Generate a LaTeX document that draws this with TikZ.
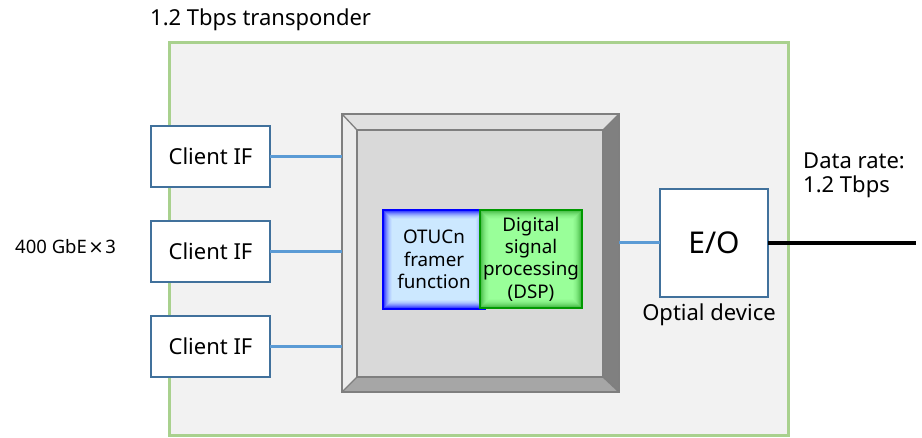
\documentclass[tikz,border=0pt]{standalone}
\usepackage{fontspec}
\setmainfont{Noto Sans}
\newfontfamily\dvfont{DejaVu Sans}
\usetikzlibrary{calc}
\definecolor{outerg}{HTML}{A9D18E}
\definecolor{bgg}{HTML}{F2F2F2}
\definecolor{boxb}{HTML}{41719C}
\definecolor{linkb}{HTML}{5B9BD5}
\definecolor{bevtop}{HTML}{E0E0E0}
\definecolor{bevleft}{HTML}{ECECEC}
\definecolor{bevright}{HTML}{808080}
\definecolor{bevbot}{HTML}{A6A6A6}
\definecolor{face}{HTML}{D9D9D9}
\definecolor{edgegray}{HTML}{7F7F7F}
\definecolor{otufill}{HTML}{CCE8FF}
\definecolor{otuedge}{HTML}{0000FF}
\definecolor{dspfill}{HTML}{99FF99}
\definecolor{dspedge}{HTML}{009900}
\definecolor{dspglow}{HTML}{33AA33}
\begin{document}
\begin{tikzpicture}[x=1pt,y=-1pt,
  f20/.style={font=\fontsize{22}{24.7}\selectfont},
  f17/.style={font=\fontsize{18.8}{22.3}\selectfont},
  cif/.style={draw=boxb, line width=2.2pt, fill=white, minimum width=119pt, minimum height=61pt, inner sep=0pt, outer sep=0pt, f20},
  link/.style={draw=linkb, line width=3pt},
  glowbox/.style 2 args={draw=#1, line width=2pt, fill=#2, inner sep=0pt, outer sep=0pt, align=center, f17},
  glow/.style={path picture={
    \foreach \i/\o in {1/0.5,2/0.38,3/0.28,4/0.2,5/0.14,6/0.09,7/0.05,8/0.03}
      \draw[#1, opacity=\o, line width=1.1pt]
        ([shift={(\i,\i)}]path picture bounding box.north west) rectangle
        ([shift={(-\i,-\i)}]path picture bounding box.south east);}}
]
\useasboundingbox (0,0) rectangle (922,438);
\fill[white] (0,0) rectangle (922,438);

% transponder frame
\node[draw=outerg, line width=3pt, fill=bgg, minimum width=619pt, minimum height=393pt,
      inner sep=0pt, outer sep=0pt, anchor=north west] (tp) at (169,43) {};
\node[f20, anchor=base west, inner sep=0pt] (title) at (150,26) {1.2 Tbps transponder};

% client interfaces
\node[cif] (c1) at (210.5,156.5) {Client IF};
\node[cif] (c2) at (210.5,251.5) {Client IF};
\node[cif] (c3) at (210.5,346.5) {Client IF};
\node[font=\fontsize{18.5}{20}\selectfont, anchor=base west, inner sep=0pt] (ge) at (15,254)
  {400 GbE\kern1.5pt{\dvfont ×}\kern1.5pt3};

% chip with bevel
\node[minimum width=277pt, minimum height=278pt, inner sep=0pt, outer sep=0pt] (chip) at (480.5,253) {};
\coordinate (io1) at (357,130);
\coordinate (io2) at (603,130);
\coordinate (io3) at (603,377);
\coordinate (io4) at (357,377);
\fill[bevtop] (chip.north west) -- (chip.north east) -- (io2) -- (io1) -- cycle;
\fill[bevleft] (chip.north west) -- (io1) -- (io4) -- (chip.south west) -- cycle;
\fill[bevright] (chip.north east) -- (chip.south east) -- (io3) -- (io2) -- cycle;
\fill[bevbot] (chip.south west) -- (io4) -- (io3) -- (chip.south east) -- cycle;
\fill[face] (io1) rectangle (io3);
\draw[edgegray, line width=1.3pt] (chip.north west) -- (io1) (chip.north east) -- (io2)
   (chip.south east) -- (io3) (chip.south west) -- (io4);
\draw[edgegray, line width=1.5pt] (io1) rectangle (io3);
\draw[edgegray, line width=2.5pt] (chip.north west) rectangle (chip.south east);

% inner function blocks
\node[glowbox={otuedge}{otufill}, glow=otuedge, minimum width=102pt, minimum height=99pt] (otu) at (434,259.5)
  {OTUCn\\framer\\function};
\node[glowbox={dspedge}{dspfill}, glow=dspglow, minimum width=102pt, minimum height=98pt] (dsp) at (531,259)
  {Digital\\signal\\processing\\(DSP)};

% optical device
\node[draw=boxb, line width=2.2pt, fill=white, minimum width=108pt, minimum height=108pt,
      inner sep=0pt, outer sep=0pt, font=\fontsize{30}{34}\selectfont] (eo) at (714,243) {E/O};
\node[f20, anchor=base, inner sep=0pt] (od) at (709,321) {Optial device};
\node[f20, anchor=base west, inner sep=0pt, align=left] (dr) at (803,193) {Data rate:\\1.2 Tbps};
\coordinate (fiber) at (916,243);

% connectors
\draw[link] (c1.east) -- (c1.east -| chip.west);
\draw[link] (c2.east) -- (c2.east -| chip.west);
\draw[link] (c3.east) -- (c3.east -| chip.west);
\draw[link] (eo.west -| chip.east) -- (eo.west);
\draw[black, line width=4pt] (eo.east) -- (fiber);
\end{tikzpicture}
\end{document}
